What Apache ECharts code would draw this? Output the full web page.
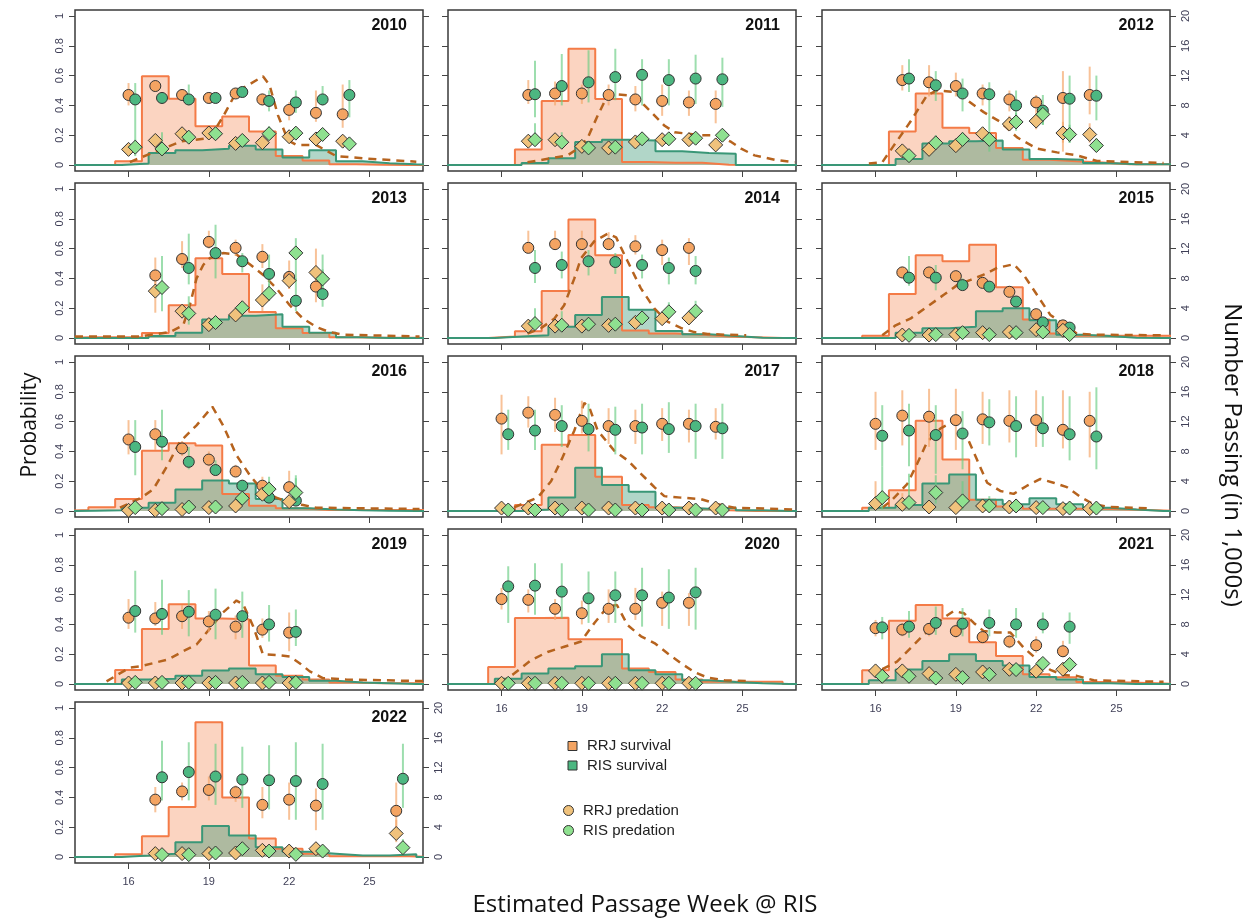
<!DOCTYPE html>
<html>
<head>
<meta charset="utf-8">
<script src="https://cdn.jsdelivr.net/npm/echarts@6/dist/echarts.min.js"></script>
<style>
html, body { margin: 0; padding: 0; background: #ffffff; }
#chart { width: 1252px; height: 920px; }
</style>
</head>
<body>
<div id="chart"></div>
<script>
// ---- data -------------------------------------------------------------
const years = [2010, 2011, 2012, 2013, 2014, 2015, 2016, 2017, 2018, 2019, 2020, 2021, 2022];

// passage weeks that carry estimates, per year
const markerWeeks = [
  [16, 17, 18, 19, 20, 21, 22, 23, 24],
  [17, 18, 19, 20, 21, 22, 23, 24],
  [17, 18, 19, 20, 21, 22, 23, 24],
  [17, 18, 19, 20, 21, 22, 23],
  [17, 18, 19, 20, 21, 22, 23],
  [17, 18, 19, 20, 21, 22, 23],
  [16, 17, 18, 19, 20, 21, 22],
  [16, 17, 18, 19, 20, 21, 22, 23, 24],
  [16, 17, 18, 19, 20, 21, 22, 23, 24],
  [16, 17, 18, 19, 20, 21, 22],
  [16, 17, 18, 19, 20, 21, 22, 23],
  [16, 17, 18, 19, 20, 21, 22, 23],
  [17, 18, 19, 20, 21, 22, 23, 26]
];

// survival estimates [estimate, lower, upper]
const rrjSurvival = [
  [[0.47,0.40,0.55],[0.53,0.50,0.56],[0.47,0.44,0.51],[0.45,0.43,0.48],[0.48,0.45,0.51],[0.44,0.40,0.48],[0.37,0.30,0.42],[0.35,0.29,0.50],[0.34,0.25,0.54]],
  [[0.47,0.41,0.57],[0.48,0.40,0.56],[0.48,0.41,0.54],[0.47,0.40,0.54],[0.44,0.36,0.53],[0.43,0.33,0.54],[0.42,0.33,0.50],[0.41,0.28,0.50]],
  [[0.57,0.50,0.67],[0.555,0.46,0.67],[0.53,0.46,0.62],[0.48,0.40,0.54],[0.44,0.36,0.50],[0.42,0.35,0.47],[0.45,0.09,0.63],[0.47,0.34,0.66]],
  [[0.42,0.36,0.54],[0.53,0.47,0.65],[0.645,0.60,0.72],[0.605,0.55,0.66],[0.545,0.47,0.63],[0.41,0.33,0.52],[0.345,0.24,0.40]],
  [[0.605,0.57,0.72],[0.63,0.59,0.72],[0.63,0.59,0.72],[0.63,0.59,0.71],[0.615,0.56,0.69],[0.59,0.49,0.66],[0.605,0.49,0.67]],
  [[0.44,0.40,0.48],[0.44,0.40,0.48],[0.415,0.38,0.45],[0.37,0.34,0.41],[0.31,0.28,0.35],[0.16,0.13,0.19],[0.085,0.06,0.11]],
  [[0.48,0.38,0.61],[0.515,0.41,0.61],[0.42,0.37,0.47],[0.345,0.30,0.40],[0.265,0.23,0.31],[0.17,0.13,0.23],[0.16,0.11,0.27]],
  [[0.62,0.38,0.78],[0.66,0.56,0.77],[0.645,0.53,0.76],[0.605,0.52,0.74],[0.57,0.45,0.69],[0.57,0.45,0.68],[0.585,0.47,0.69],[0.585,0.46,0.68],[0.565,0.48,0.69]],
  [[0.585,0.41,0.80],[0.64,0.44,0.81],[0.633,0.43,0.82],[0.61,0.41,0.82],[0.615,0.45,0.80],[0.605,0.46,0.81],[0.61,0.43,0.81],[0.545,0.42,0.81],[0.605,0.36,0.80]],
  [[0.445,0.37,0.57],[0.44,0.39,0.55],[0.455,0.37,0.53],[0.42,0.35,0.49],[0.385,0.30,0.46],[0.365,0.31,0.44],[0.345,0.22,0.48]],
  [[0.57,0.50,0.645],[0.565,0.48,0.635],[0.505,0.43,0.57],[0.475,0.40,0.56],[0.505,0.41,0.635],[0.505,0.43,0.645],[0.545,0.39,0.62],[0.545,0.39,0.61]],
  [[0.375,0.32,0.43],[0.365,0.32,0.41],[0.37,0.32,0.41],[0.355,0.31,0.40],[0.315,0.27,0.35],[0.285,0.24,0.33],[0.26,0.21,0.32],[0.22,0.18,0.29]],
  [[0.385,0.30,0.47],[0.44,0.38,0.50],[0.45,0.38,0.54],[0.435,0.37,0.48],[0.35,0.26,0.47],[0.385,0.25,0.50],[0.345,0.18,0.46],[0.31,0.19,0.50]]
];
const risSurvival = [
  [[0.44,0.06,0.55],[0.45,0.41,0.49],[0.44,0.40,0.54],[0.45,0.42,0.48],[0.49,0.46,0.52],[0.43,0.36,0.50],[0.42,0.35,0.50],[0.44,0.40,0.53],[0.47,0.32,0.57]],
  [[0.475,0.32,0.70],[0.53,0.40,0.745],[0.555,0.42,0.77],[0.59,0.435,0.78],[0.605,0.40,0.71],[0.57,0.40,0.71],[0.58,0.41,0.74],[0.575,0.39,0.72]],
  [[0.58,0.49,0.71],[0.535,0.43,0.63],[0.48,0.36,0.58],[0.475,0.09,0.555],[0.40,0.30,0.50],[0.365,0.27,0.47],[0.445,0.15,0.60],[0.465,0.30,0.60]],
  [null,[0.47,0.36,0.70],[0.57,0.40,0.76],[0.515,0.44,0.57],[0.43,0.33,0.56],[0.25,0.18,0.40],[0.295,0.21,0.56]],
  [[0.47,0.37,0.59],[0.49,0.40,0.58],[0.515,0.42,0.59],[0.51,0.43,0.57],[0.49,0.40,0.56],[0.47,0.36,0.54],[0.45,0.36,0.55]],
  [[0.405,0.35,0.55],[0.405,0.32,0.49],[0.355,0.32,0.40],[0.345,0.31,0.38],[0.245,0.22,0.27],[0.105,0.08,0.13],[0.07,0.05,0.10]],
  [[0.43,0.24,0.61],[0.465,0.34,0.68],[0.33,0.28,0.43],[0.275,0.24,0.34],[0.17,0.14,0.21],[0.09,0.07,0.23],[0.07,0.05,0.24]],
  [[0.515,0.41,0.68],[0.54,0.41,0.68],[0.57,0.43,0.71],[0.55,0.40,0.72],[0.545,0.38,0.70],[0.56,0.38,0.72],[0.55,0.39,0.73],[0.57,0.35,0.72],[0.555,0.35,0.72]],
  [[0.505,0.30,0.71],[0.54,0.30,0.72],[0.51,0.25,0.71],[0.52,0.28,0.67],[0.595,0.44,0.75],[0.57,0.36,0.77],[0.555,0.43,0.77],[0.515,0.34,0.77],[0.50,0.28,0.83]],
  [[0.49,0.345,0.76],[0.47,0.33,0.70],[0.485,0.32,0.63],[0.465,0.30,0.64],[0.455,0.31,0.62],[0.40,0.285,0.53],[0.35,0.255,0.50]],
  [[0.655,0.41,0.79],[0.66,0.465,0.81],[0.62,0.44,0.81],[0.575,0.41,0.755],[0.595,0.41,0.755],[0.595,0.385,0.78],[0.58,0.37,0.77],[0.615,0.365,0.78]],
  [[0.38,0.30,0.45],[0.385,0.31,0.49],[0.41,0.33,0.52],[0.405,0.32,0.51],[0.41,0.32,0.50],[0.40,0.31,0.51],[0.40,0.34,0.48],[0.385,0.27,0.48]],
  [[0.535,0.38,0.78],[0.57,0.38,0.77],[0.54,0.35,0.76],[0.52,0.33,0.74],[0.515,0.32,0.75],[0.51,0.25,0.77],[0.49,0.25,0.76],[0.525,0.33,0.76]]
];

// predation estimates [estimate, lower, upper]
const rrjPredation = [
  [[0.105,0.08,0.13],[0.165,0.12,0.20],[0.21,0.18,0.24],[0.215,0.18,0.24],[0.145,0.12,0.17],[0.15,0.12,0.19],[0.19,0.16,0.22],[0.175,0.15,0.21],[0.16,0.13,0.19]],
  [[0.16,0.13,0.20],[0.17,0.14,0.20],[0.125,0.10,0.15],[0.115,0.09,0.14],[0.155,0.13,0.18],[0.17,0.14,0.20],[0.17,0.14,0.20],[0.135,0.10,0.18]],
  [[0.095,0.07,0.13],[0.105,0.08,0.14],[0.13,0.10,0.17],[0.21,0.17,0.25],[0.275,0.23,0.33],[0.295,0.24,0.35],[0.215,0.15,0.29],[0.205,0.15,0.28]],
  [[0.315,0.17,0.40],[0.18,0.15,0.22],[0.09,0.07,0.11],[0.155,0.13,0.18],[0.255,0.18,0.36],[0.385,0.33,0.45],[0.44,0.36,0.60]],
  [[0.08,0.06,0.11],[0.08,0.06,0.10],[0.08,0.06,0.10],[0.085,0.07,0.10],[0.105,0.09,0.13],[0.13,0.10,0.16],[0.135,0.10,0.17]],
  [[0.02,0.01,0.03],[0.02,0.01,0.03],[0.023,0.01,0.035],[0.036,0.02,0.05],[0.04,0.03,0.05],[0.056,0.04,0.07],[0.052,0.04,0.07]],
  [[0.005,0,0.01],[0.005,0,0.01],[0.01,0,0.02],[0.023,0.01,0.035],[0.034,0.02,0.05],[0.113,0.08,0.15],[0.063,0.04,0.09]],
  [[0.02,0.01,0.03],[0.02,0.01,0.03],[0.02,0.01,0.03],[0.02,0.01,0.03],[0.02,0.01,0.03],[0.02,0.01,0.03],[0.02,0.01,0.03],[0.02,0.01,0.03],[0.02,0.01,0.03]],
  [[0.05,0.02,0.20],[0.045,0.02,0.12],[0.027,0.01,0.05],[0.023,0.01,0.05],[0.034,0.02,0.06],[0.027,0.01,0.06],[0.023,0.01,0.05],[0.016,0.005,0.05],[0.016,0.005,0.06]],
  [[0.007,0,0.015],[0.007,0,0.015],[0.007,0,0.015],[0.007,0,0.015],[0.007,0,0.015],[0.007,0,0.015],[0.007,0,0.015]],
  [[0.005,0,0.01],[0.005,0,0.01],[0.005,0,0.01],[0.005,0,0.01],[0.005,0,0.01],[0.005,0,0.01],[0.005,0,0.01],[0.005,0,0.01]],
  [[0.088,0.07,0.11],[0.088,0.07,0.11],[0.07,0.05,0.09],[0.065,0.05,0.08],[0.081,0.06,0.10],[0.099,0.08,0.12],[0.086,0.06,0.11],[0.099,0.07,0.13]],
  [[0.023,0.01,0.04],[0.023,0.01,0.04],[0.023,0.01,0.04],[0.027,0.01,0.045],[0.045,0.03,0.07],[0.04,0.02,0.06],[0.056,0.03,0.08],[0.158,0.10,0.25]]
];
const risPredation = [
  [[0.12,0.08,0.17],[0.108,0.06,0.22],[0.187,0.15,0.23],[0.21,0.18,0.24],[0.165,0.13,0.20],[0.21,0.17,0.26],[0.214,0.18,0.25],[0.205,0.17,0.24],[0.142,0.11,0.17]],
  [[0.17,0.14,0.28],[0.153,0.12,0.22],[0.115,0.09,0.14],[0.12,0.09,0.15],[0.176,0.14,0.21],[0.176,0.14,0.21],[0.18,0.15,0.21],[0.20,0.16,0.24]],
  [[0.063,0.04,0.10],[0.149,0.11,0.20],[0.172,0.13,0.22],[0.172,0.13,0.22],[0.289,0.23,0.35],[0.34,0.27,0.40],[0.205,0.15,0.27],[0.131,0.09,0.18]],
  [[0.339,0.18,0.55],[0.165,0.09,0.28],[0.104,0.08,0.13],[0.203,0.17,0.25],[0.30,0.25,0.36],[0.571,0.38,0.67],[0.397,0.33,0.46]],
  [[0.097,0.07,0.20],[0.086,0.07,0.18],[0.093,0.07,0.12],[0.093,0.07,0.12],[0.135,0.10,0.17],[0.176,0.13,0.24],[0.18,0.14,0.25]],
  [[0.018,0.01,0.03],[0.023,0.01,0.035],[0.036,0.02,0.05],[0.023,0.01,0.035],[0.036,0.02,0.05],[0.04,0.03,0.055],[0.023,0.01,0.035]],
  [[0.023,0.01,0.04],[0.016,0.005,0.03],[0.027,0.01,0.04],[0.027,0.01,0.04],[0.086,0.06,0.11],[0.147,0.11,0.20],[0.124,0.09,0.22]],
  [[0.007,0,0.015],[0.007,0,0.015],[0.007,0,0.015],[0.007,0,0.015],[0.007,0,0.015],[0.007,0,0.015],[0.007,0,0.015],[0.007,0,0.015],[0.007,0,0.015]],
  [[0.09,0.01,0.30],[0.057,0.01,0.25],[0.124,0.05,0.24],[0.068,0.01,0.20],[0.034,0.01,0.10],[0.034,0.01,0.08],[0.023,0.005,0.06],[0.02,0.005,0.05],[0.02,0.005,0.06]],
  [[0.011,0.005,0.02],[0.011,0.005,0.02],[0.011,0.005,0.02],[0.011,0.005,0.02],[0.011,0.005,0.02],[0.011,0.005,0.02],[0.011,0.005,0.02]],
  [[0.005,0,0.01],[0.005,0,0.01],[0.005,0,0.01],[0.005,0,0.01],[0.005,0,0.01],[0.005,0,0.01],[0.005,0,0.01],[0.005,0,0.01]],
  [[0.052,0.03,0.08],[0.052,0.03,0.08],[0.04,0.02,0.06],[0.043,0.03,0.06],[0.065,0.05,0.09],[0.097,0.07,0.12],[0.138,0.11,0.17],[0.131,0.10,0.17]],
  [[0.016,0.005,0.03],[0.016,0.005,0.03],[0.027,0.01,0.04],[0.056,0.04,0.08],[0.04,0.02,0.06],[0.018,0.005,0.03],[0.04,0.02,0.06],[0.063,0.03,0.12]]
];

// weekly numbers passing (thousands), one value per week 14..27
const passageWeeks = [14, 15, 16, 17, 18, 19, 20, 21, 22, 23, 24, 25, 26, 27];
const rrjPassage = [
  [0, 0, 0.5, 11.9, 8.9, 5.2, 6.5, 4.5, 1.2, 0.6, 0.1, 0.05, 0, 0],
  [0, 0, 0, 2.1, 8.6, 15.6, 8.85, 0.4, 0.3, 0.3, 0.05, 0, 0, 0],
  [0, 0, 0, 4.5, 9.6, 5.0, 4.3, 2.3, 0.7, 0.5, 0.35, 0.1, 0.1, 0.1],
  [0.1, 0.1, 0.1, 0.68, 4.4, 10.7, 8.6, 3.5, 1.3, 0.68, 0.1, 0.05, 0.05, 0.05],
  [0, 0, 0.2, 0.9, 6.3, 15.9, 11.1, 1.0, 0.6, 0.45, 0.2, 0.1, 0, 0],
  [0, 0, 0.3, 5.9, 11.1, 10.3, 12.5, 6.8, 2.5, 0.6, 0.3, 0.3, 0.3, 0.3],
  [0.15, 0.5, 1.6, 8.1, 9.1, 8.8, 2.3, 0.7, 0.36, 0.15, 0.15, 0.15, 0.15, 0.1],
  [0, 0, 0, 0.8, 8.9, 10.2, 4.6, 0.8, 0.5, 0.3, 0.1, 0, 0, 0],
  [0, 0, 0.45, 2.8, 12.1, 6.9, 1.5, 0.6, 0.3, 0.3, 0.3, 0.2, 0.1, 0],
  [0, 0, 1.9, 7.4, 10.7, 8.8, 8.7, 2.5, 1.1, 0.6, 0.2, 0.1, 0.1, 0.1],
  [0, 0, 2.3, 8.85, 8.9, 6.0, 6.0, 2.1, 1.6, 0.6, 0.3, 0.3, 0.3, 0],
  [0, 0, 1.85, 8.5, 10.6, 8.8, 5.6, 3.75, 1.3, 0.9, 0.27, 0.2, 0.1, 0],
  [0, 0, 0.36, 2.8, 6.7, 18.1, 8.0, 2.5, 1.1, 0.45, 0.1, 0.1, 0.1, 0]
];
const risPassage = [
  [0, 0, 0.2, 1.6, 2.0, 2.2, 2.6, 2.1, 1.0, 2.0, 0.5, 0.25, 0.1, 0],
  [0, 0, 0, 0.27, 0.9, 3.1, 3.4, 3.3, 1.85, 1.6, 1.5, 0, 0, 0],
  [0, 0, 0, 0.8, 2.9, 3.2, 3.3, 2.1, 0.8, 0.7, 0.27, 0.1, 0.1, 0.1],
  [0, 0, 0, 0.27, 0.7, 2.5, 3.0, 3.2, 1.5, 0.7, 0.1, 0, 0, 0],
  [0, 0, 0.2, 0.36, 1.5, 3.1, 5.5, 3.8, 0.95, 0.5, 0.27, 0.05, 0, 0],
  [0, 0, 0, 0.7, 1.3, 1.5, 3.6, 4.0, 2.4, 0.45, 0.27, 0.05, 0, 0],
  [0.05, 0.1, 0.45, 1.1, 2.9, 4.1, 3.7, 1.6, 0.36, 0.2, 0.1, 0.05, 0, 0],
  [0, 0, 0, 0.2, 1.8, 5.8, 3.5, 2.6, 0.45, 0.3, 0.45, 0.1, 0, 0],
  [0, 0, 0.45, 0.8, 3.7, 4.9, 1.5, 0.9, 1.7, 0.9, 0.45, 0.2, 0, 0],
  [0, 0, 0.6, 0.7, 1.1, 1.8, 2.1, 1.3, 0.95, 0.45, 0.2, 0.1, 0, 0],
  [0, 0, 0.7, 1.4, 2.1, 2.4, 4.0, 1.85, 1.3, 0.5, 0.27, 0.1, 0, 0],
  [0, 0, 0.5, 1.95, 3.1, 4.0, 3.1, 2.5, 0.95, 0.6, 0.1, 0, 0, 0],
  [0, 0, 0.2, 0.45, 2.0, 4.15, 2.9, 1.3, 0.7, 0.45, 0.2, 0.2, 0.36, 0]
];

// reference passage curve (thousands) as [week, number]; none for 2022
const passageCurve = [
  [[16.05,0.4],[16.73,1.4],[17.98,3.2],[19.03,3.6],[19.53,6.5],[20.03,9.8],[21.02,11.9],[21.27,10.7],[21.58,6.7],[21.96,3.3],[22.27,2.7],[23.0,2.7],[23.76,1.2],[24.76,0.9],[26.75,0.45]],
  [[16.97,0.36],[18.47,1.3],[18.84,2.2],[19.2,3.5],[19.6,6.7],[19.97,9.4],[20.2,9.5],[20.96,9.3],[21.34,8.0],[21.7,6.7],[22.08,5.3],[22.46,4.4],[22.96,4.2],[23.45,4.0],[24.08,4.0],[24.58,3.1],[24.95,2.2],[25.45,1.3],[26.2,0.7],[26.95,0.36]],
  [[15.75,0.2],[16.25,0.36],[16.68,2.6],[17.3,5.8],[17.93,9.4],[18.3,10.0],[18.92,9.8],[19.42,8.7],[20.04,7.1],[20.66,5.8],[21.29,3.7],[22.03,2.2],[22.78,1.7],[23.52,1.3],[24.27,0.54],[26.76,0.27]],
  [[14.0,0.2],[16.4,0.2],[17.54,0.8],[18.04,1.7],[18.29,4.4],[18.54,8.0],[18.79,9.8],[19.03,10.7],[19.53,11.4],[20.03,11.2],[20.53,9.9],[21.02,8.5],[21.52,6.7],[22.02,4.4],[22.52,2.6],[23.01,1.5],[23.5,0.8],[24.0,0.45],[26.87,0.2]],
  [[16.97,0.6],[17.47,1.3],[17.97,2.6],[18.34,4.4],[18.72,8.0],[18.97,10.7],[19.47,13.0],[19.97,14.0],[20.28,13.5],[20.71,10.3],[21.2,6.7],[21.7,4.0],[22.2,2.2],[22.7,1.35],[23.2,0.8],[23.7,0.54],[24.33,0.45],[25.14,0.36]],
  [[16.25,0.36],[16.75,1.7],[17.3,2.6],[17.93,4.2],[18.55,5.8],[19.05,7.1],[19.55,7.8],[20.04,8.5],[20.54,9.4],[21.16,9.9],[21.53,8.5],[22.03,5.8],[22.53,3.1],[23.02,1.9],[23.52,0.6],[24.15,0.45],[26.76,0.36]],
  [[15.68,0.45],[16.48,1.8],[16.92,2.9],[17.42,5.9],[17.92,9.3],[18.54,11.5],[19.13,14.0],[19.53,11.5],[20.03,7.5],[20.53,4.8],[21.02,2.7],[21.52,1.8],[22.02,1.1],[22.52,0.8],[23.01,0.45],[26.87,0.27]],
  [[16.47,0.5],[17.35,1.8],[17.85,4.0],[18.28,7.2],[18.72,10.8],[19.09,14.5],[19.28,13.9],[19.59,10.8],[20.21,8.1],[20.71,6.8],[21.21,5.0],[21.71,3.2],[22.08,2.0],[22.7,1.8],[23.45,1.6],[24.08,0.9],[24.7,0.45],[26.95,0.2]],
  [[16.25,0.45],[16.56,1.3],[17.18,3.6],[17.55,6.3],[17.93,9.3],[18.43,11.1],[18.92,12.0],[19.42,9.9],[19.8,6.8],[20.17,3.8],[20.66,2.7],[21.16,2.3],[21.66,3.4],[22.16,4.3],[22.65,3.8],[23.15,3.2],[23.65,1.9],[24.15,0.9],[24.77,0.54],[26.14,0.36]],
  [[15.18,0.36],[15.61,1.3],[16.05,2.2],[16.48,2.4],[16.92,2.8],[17.48,3.3],[18.04,4.4],[18.54,5.3],[19.03,7.4],[19.53,9.6],[20.03,11.2],[20.28,10.7],[20.65,7.8],[21.02,4.0],[21.52,3.9],[22.02,3.7],[22.39,2.8],[22.77,1.7],[23.26,0.8],[24.13,0.6],[27.0,0.4]],
  [[15.98,0.13],[16.47,1.4],[17.1,3.2],[17.72,4.3],[18.34,5.0],[18.97,5.7],[19.47,8.2],[19.97,10.4],[20.31,10.6],[20.71,7.9],[21.21,6.4],[21.71,5.5],[22.21,4.1],[22.7,2.8],[23.2,1.6],[23.7,0.86],[24.33,0.5],[25.2,0.4]],
  [[16.25,2.0],[16.8,3.0],[17.3,4.8],[17.8,6.6],[18.3,8.2],[18.67,9.2],[18.92,9.8],[19.3,9.5],[19.67,8.2],[20.04,7.1],[20.54,6.9],[21.04,6.9],[21.53,4.9],[22.03,3.3],[22.53,1.9],[23.03,1.2],[23.52,1.1],[24.15,0.5],[26.76,0.3]],
  []
];

// axis ticks
const weekTicks = [16, 19, 22, 25];
const probTicks = [0, 0.2, 0.4, 0.6, 0.8, 1];
const countTicks = [0, 4, 8, 12, 16, 20];

// ---- layout & style ---------------------------------------------------
const COL_LEFT = [75, 448, 822];
const ROW_TOP = [10, 183, 356, 529, 702];
const PANEL_W = 348, PANEL_H = 161;
const RIS_SHIFT = 0.25;            // RIS symbols/bars drawn a quarter week right
const TICK_COLOR = '#3e3e56';

const C = {
  rrjBarFill: 'rgba(244,132,78,0.5)', rrjBarLine: '#F47B47',
  risBarFill: 'rgba(34,138,100,0.5)', risBarLine: '#3A9777',
  curve: '#B6631E',
  rrjSurv: '#F4A462', risSurv: '#4CB781',
  rrjPred: '#F0C27C', risPred: '#8FE190',
  rrjErr: 'rgba(245,168,108,0.7)', risErr: 'rgba(105,205,130,0.65)',
  edge: '#333333'
};

function stepPoints(values, shift) {
  const first = passageWeeks[0] - 0.5 + shift;
  const pts = [[first, 0]];
  values.forEach((v, k) => pts.push([passageWeeks[k] - 0.5 + shift, v]));
  const last = passageWeeks[passageWeeks.length - 1] + 0.5 + shift;
  pts.push([last, values[values.length - 1]]);
  pts.push([last, 0]);
  return pts;
}

function pointRows(est, weeks, shift) {
  const rows = [];
  est.forEach((e, k) => { if (e) rows.push([weeks[k] + shift, e[0], e[1], e[2]]); });
  return rows;
}

function errorBarRender(color) {
  return function (params, api) {
    const x = api.value(0);
    const a = api.coord([x, api.value(2)]);
    const b = api.coord([x, api.value(3)]);
    return {
      type: 'line',
      shape: { x1: a[0], y1: a[1], x2: b[0], y2: b[1] },
      style: { stroke: color, lineWidth: 2 }
    };
  };
}

const option = {
  animation: false,
  backgroundColor: '#ffffff',
  grid: [], xAxis: [], yAxis: [], series: [], title: [], graphic: []
};

years.forEach((yr, i) => {
  const col = i % 3, row = Math.floor(i / 3);
  const left = COL_LEFT[col], top = ROW_TOP[row];
  const showX = i >= 10;
  const showLeft = col === 0;
  const showRight = col === 2 || i === 12;

  option.grid.push({
    left: left, top: top, width: PANEL_W, height: PANEL_H,
    show: true, borderColor: '#3a3a3a', borderWidth: 1.5,
    backgroundColor: 'transparent', containLabel: false, outerBoundsMode: 'none'
  });

  option.xAxis.push({
    gridIndex: i, type: 'value', min: 14, max: 27,
    splitLine: { show: false },
    axisLine: { show: false, onZero: false },
    axisTick: { show: true, inside: false, length: 6, customValues: weekTicks, lineStyle: { color: '#444', width: 1 } },
    axisLabel: { show: showX, customValues: weekTicks, fontSize: 11, color: TICK_COLOR, margin: 13, fontFamily: 'Liberation Sans' }
  });

  option.yAxis.push({
    gridIndex: i, type: 'value', position: 'left', min: -0.04, max: 1.04,
    splitLine: { show: false },
    axisLine: { show: false, onZero: false },
    axisTick: { show: true, inside: false, length: 6, customValues: probTicks, lineStyle: { color: '#444', width: 1 } },
    axisLabel: { show: showLeft, customValues: probTicks, rotate: 90, fontSize: 11, color: TICK_COLOR, margin: 10, fontFamily: 'Liberation Sans' }
  });
  option.yAxis.push({
    gridIndex: i, type: 'value', position: 'right', min: -0.8, max: 20.8,
    splitLine: { show: false },
    axisLine: { show: false, onZero: false },
    axisTick: { show: true, inside: false, length: 6, customValues: countTicks, lineStyle: { color: '#444', width: 1 } },
    axisLabel: { show: showRight, customValues: countTicks, rotate: 90, fontSize: 11, color: TICK_COLOR, margin: 10, fontFamily: 'Liberation Sans' }
  });

  const yP = 2 * i, yN = 2 * i + 1;
  const weeks = markerWeeks[i];

  // weekly passage, stepped
  option.series.push({
    type: 'line', name: 'RRJ passage', xAxisIndex: i, yAxisIndex: yN, step: 'end',
    symbol: 'none', silent: true, z: 1,
    data: stepPoints(rrjPassage[i], 0),
    lineStyle: { color: C.rrjBarLine, width: 2 },
    areaStyle: { color: C.rrjBarFill }
  });
  option.series.push({
    type: 'line', name: 'RIS passage', xAxisIndex: i, yAxisIndex: yN, step: 'end',
    symbol: 'none', silent: true, z: 1,
    data: stepPoints(risPassage[i], RIS_SHIFT),
    lineStyle: { color: C.risBarLine, width: 2 },
    areaStyle: { color: C.risBarFill }
  });

  if (passageCurve[i].length) {
    option.series.push({
      type: 'line', name: 'passage curve', xAxisIndex: i, yAxisIndex: yN,
      symbol: 'none', silent: true, z: 2,
      data: passageCurve[i],
      lineStyle: { color: C.curve, width: 2.5, type: [8, 6] }
    });
  }

  const groups = [
    { name: 'RRJ survival', est: rrjSurvival[i], shift: 0, color: C.rrjSurv, err: C.rrjErr, symbol: 'circle', size: 11 },
    { name: 'RIS survival', est: risSurvival[i], shift: RIS_SHIFT, color: C.risSurv, err: C.risErr, symbol: 'circle', size: 11 },
    { name: 'RRJ predation', est: rrjPredation[i], shift: 0, color: C.rrjPred, err: C.rrjErr, symbol: 'diamond', size: 14 },
    { name: 'RIS predation', est: risPredation[i], shift: RIS_SHIFT, color: C.risPred, err: C.risErr, symbol: 'diamond', size: 14 }
  ];

  groups.forEach(g => {
    option.series.push({
      type: 'custom', name: g.name + ' interval', xAxisIndex: i, yAxisIndex: yP,
      silent: true, z: 3, clip: true,
      renderItem: errorBarRender(g.err),
      encode: { x: 0, y: [2, 3] },
      data: pointRows(g.est, weeks, g.shift)
    });
  });
  groups.forEach(g => {
    option.series.push({
      type: 'scatter', name: g.name, xAxisIndex: i, yAxisIndex: yP,
      silent: true, z: 4, symbol: g.symbol, symbolSize: g.size,
      encode: { x: 0, y: 1 },
      itemStyle: { color: g.color, borderColor: C.edge, borderWidth: 1, opacity: 1 },
      data: pointRows(g.est, weeks, g.shift)
    });
  });

  option.title.push({
    text: String(yr),
    right: 1252 - (left + PANEL_W) + 16,
    top: top + 8,
    padding: 0,
    textStyle: { fontSize: 16, fontWeight: 'bold', color: '#111', fontFamily: 'Liberation Sans' }
  });
});

// axis titles
option.graphic.push(
  { type: 'text', x: 30, y: 425, rotation: Math.PI / 2, silent: true,
    style: { text: 'Probability', font: '21px "Open Sans"', fill: '#111', align: 'center', verticalAlign: 'middle' } },
  { type: 'text', x: 1232, y: 455, rotation: -Math.PI / 2, silent: true,
    style: { text: 'Number Passing (in 1,000s)', font: '24px "Open Sans"', fill: '#111', align: 'center', verticalAlign: 'middle' } },
  { type: 'text', x: 645, y: 905, silent: true,
    style: { text: 'Estimated Passage Week @ RIS', font: '24px "Open Sans"', fill: '#111', align: 'center', verticalAlign: 'middle' } }
);

// key
const keyFont = '15px "Liberation Sans"';
option.graphic.push(
  { type: 'rect', silent: true, shape: { x: 568, y: 741.5, width: 9, height: 9 }, style: { fill: C.rrjSurv, stroke: C.edge, lineWidth: 1 } },
  { type: 'text', silent: true, x: 587, y: 746, style: { text: 'RRJ survival', font: keyFont, fill: '#222', verticalAlign: 'middle' } },
  { type: 'rect', silent: true, shape: { x: 568, y: 761, width: 9, height: 9 }, style: { fill: C.risSurv, stroke: C.edge, lineWidth: 1 } },
  { type: 'text', silent: true, x: 587, y: 765.5, style: { text: 'RIS survival', font: keyFont, fill: '#222', verticalAlign: 'middle' } },
  { type: 'circle', silent: true, shape: { cx: 568.5, cy: 810.5, r: 5 }, style: { fill: C.rrjPred, stroke: C.edge, lineWidth: 1 } },
  { type: 'text', silent: true, x: 583, y: 810.5, style: { text: 'RRJ predation', font: keyFont, fill: '#222', verticalAlign: 'middle' } },
  { type: 'circle', silent: true, shape: { cx: 568.5, cy: 830.5, r: 5 }, style: { fill: C.risPred, stroke: C.edge, lineWidth: 1 } },
  { type: 'text', silent: true, x: 583, y: 830.5, style: { text: 'RIS predation', font: keyFont, fill: '#222', verticalAlign: 'middle' } }
);

const chart = echarts.init(document.getElementById('chart'), null, { renderer: 'canvas' });
chart.setOption(option);
</script>
</body>
</html>
